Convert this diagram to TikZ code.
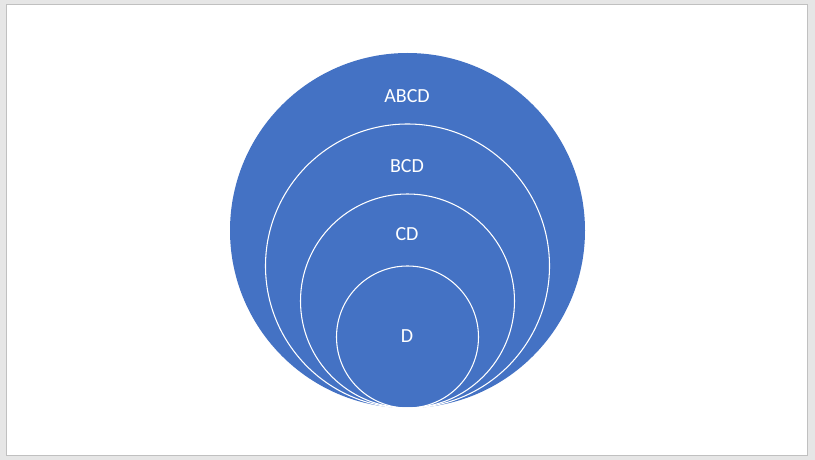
\documentclass[tikz,border=0pt]{standalone}
\usepackage{fontspec}
\setmainfont{Carlito}
\definecolor{bluefill}{HTML}{4472C4}
\definecolor{framegray}{HTML}{E6E6E6}
\definecolor{edgegray}{HTML}{C0C0C0}
\begin{document}
\begin{tikzpicture}[x=0.75pt,y=-0.75pt]
\useasboundingbox (0,0) rectangle (815,460);
\fill [color=framegray] (0,0) rectangle (815,460);
\draw [fill=white, draw=edgegray, line width=0.75pt] (6.5,4.5) rectangle (807.5,455.5);

\fill [color=bluefill] (407.5,230.5) circle (177.5);
\draw [color=white, line width=0.8pt] (407.5,266) circle (142);
\draw [color=white, line width=0.8pt] (407.5,301) circle (107);
\draw [color=white, line width=0.8pt] (407.5,337) circle (71);

\node [text=white, font=\fontsize{15}{17}\selectfont] (abcd) at (407,96) {ABCD};
\node [text=white, font=\fontsize{15}{17}\selectfont] (bcd) at (407,166) {BCD};
\node [text=white, font=\fontsize{15}{17}\selectfont] (cd) at (407,234) {CD};
\node [text=white, font=\fontsize{15}{17}\selectfont] (d) at (407,336) {D};

\end{tikzpicture}
\end{document}
